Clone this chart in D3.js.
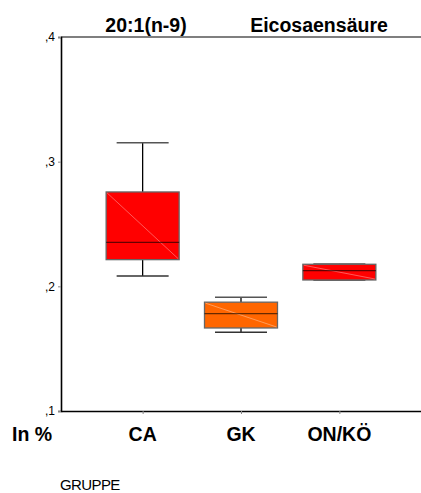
<!DOCTYPE html>
<html lang="de">
<head>
    <meta charset="UTF-8">
    <title>20:1(n-9) Eicosaensäure</title>
    <script src="https://d3js.org/d3.v7.min.js"></script>
    <style>
        body { margin: 0; background: #fff; }
        svg { display: block; font-family: "Liberation Sans", Arial, sans-serif; }
    </style>
</head>
<body>
    <svg id="chart" width="421" height="493"></svg>

    <script>
        // data
        const groups = ["CA", "GK", "ON/KÖ"];
        const whiskerLow  = [0.2083, 0.1632, 0.2051];
        const boxLow      = [0.2214, 0.1666, 0.2051];
        const medians     = [0.2353, 0.1781, 0.2126];
        const boxHigh     = [0.2757, 0.1873, 0.2177];
        const whiskerHigh = [0.3152, 0.1912, 0.2180];
        const boxColors   = ["#ff0000", "#ff6600", "#ff0000"];
        const yTicks = [0.1, 0.2, 0.3, 0.4];

        const boxes = groups.map((g, i) => ({
            group: g, lo: whiskerLow[i], q1: boxLow[i], med: medians[i],
            q3: boxHigh[i], hi: whiskerHigh[i], color: boxColors[i]
        }));

        const svg = d3.select("#chart");
        const plotLeft = 61, plotRight = 421, plotTop = 37, plotBottom = 411;

        const x = d3.scalePoint().domain(groups).range([plotLeft, plotRight]).padding(0.83);
        const y = d3.scaleLinear().domain([0.1, 0.4]).range([plotBottom, plotTop]);
        const boxW = 73, capW = 52;

        // titles
        svg.append("text").attr("x", 146).attr("y", 32).attr("text-anchor", "middle")
            .attr("font-size", 19.5).attr("font-weight", "bold").text("20:1(n-9)");
        svg.append("text").attr("x", 319).attr("y", 32).attr("text-anchor", "middle")
            .attr("font-size", 19.5).attr("font-weight", "bold").text("Eicosaensäure");

        // top frame line
        svg.append("line").attr("x1", plotLeft).attr("x2", plotRight).attr("y1", plotTop).attr("y2", plotTop)
            .attr("stroke", "#000").attr("stroke-width", 1.2);

        // y axis
        const yAxis = svg.append("g").attr("transform", `translate(${plotLeft},0)`)
            .call(d3.axisLeft(y).tickValues(yTicks).tickSize(3).tickPadding(3)
                .tickFormat(d => d3.format(".1f")(d).replace("0.", ",")));
        yAxis.select(".domain").attr("stroke-width", 1.6);
        yAxis.selectAll(".tick line").attr("stroke", "#888");
        yAxis.selectAll("text").attr("font-size", 12).attr("font-family", "Liberation Sans, Arial, sans-serif")
            .attr("fill", "#000");

        // x axis
        const xAxis = svg.append("g").attr("transform", `translate(0,${plotBottom})`)
            .call(d3.axisBottom(x).tickSize(3).tickSizeOuter(0).tickFormat(""));
        xAxis.select(".domain").attr("stroke-width", 1.6);
        xAxis.selectAll(".tick line").attr("stroke", "#888");

        svg.selectAll(".grp-label").data(groups).enter().append("text")
            .attr("class", "grp-label")
            .attr("x", d => x(d)).attr("y", 441).attr("text-anchor", "middle")
            .attr("font-size", 19.5).attr("font-weight", "bold").text(d => d);

        svg.append("text").attr("x", 12).attr("y", 441)
            .attr("font-size", 19.5).attr("font-weight", "bold").text("In %");
        svg.append("text").attr("x", 60).attr("y", 490)
            .attr("font-size", 15).attr("letter-spacing", -0.6).text("GRUPPE");

        // box plots
        const g = svg.selectAll(".box").data(boxes).enter().append("g").attr("class", "box");

        g.append("line") // upper whisker
            .attr("x1", d => x(d.group)).attr("x2", d => x(d.group))
            .attr("y1", d => y(d.hi)).attr("y2", d => y(d.q3))
            .attr("stroke", "#000").attr("stroke-width", 1.3);
        g.append("line") // lower whisker
            .attr("x1", d => x(d.group)).attr("x2", d => x(d.group))
            .attr("y1", d => y(d.q1)).attr("y2", d => y(d.lo))
            .attr("stroke", "#000").attr("stroke-width", 1.3);
        g.append("line") // top cap
            .attr("x1", d => x(d.group) - capW / 2).attr("x2", d => x(d.group) + capW / 2)
            .attr("y1", d => y(d.hi)).attr("y2", d => y(d.hi))
            .attr("stroke", "#555").attr("stroke-width", 1.4);
        g.append("line") // bottom cap
            .attr("x1", d => x(d.group) - capW / 2).attr("x2", d => x(d.group) + capW / 2)
            .attr("y1", d => y(d.lo)).attr("y2", d => y(d.lo))
            .attr("stroke", "#333").attr("stroke-width", 1.4);

        g.append("rect")
            .attr("x", d => x(d.group) - boxW / 2).attr("width", boxW)
            .attr("y", d => y(d.q3)).attr("height", d => y(d.q1) - y(d.q3))
            .attr("fill", d => d.color).attr("stroke", "#666").attr("stroke-width", 1.3);

        g.append("line") // diagonal highlight
            .attr("x1", d => x(d.group) - boxW / 2 + 1).attr("y1", d => y(d.q3) + 1)
            .attr("x2", d => x(d.group) + boxW / 2 - 1).attr("y2", d => y(d.q1) - 1)
            .attr("stroke", "#ffffff").attr("stroke-opacity", 0.35).attr("stroke-width", 1);

        g.append("line") // median
            .attr("x1", d => x(d.group) - boxW / 2).attr("x2", d => x(d.group) + boxW / 2)
            .attr("y1", d => y(d.med)).attr("y2", d => y(d.med))
            .attr("stroke", "#000").attr("stroke-opacity", 0.6).attr("stroke-width", 1.4);
    </script>
</body>
</html>
